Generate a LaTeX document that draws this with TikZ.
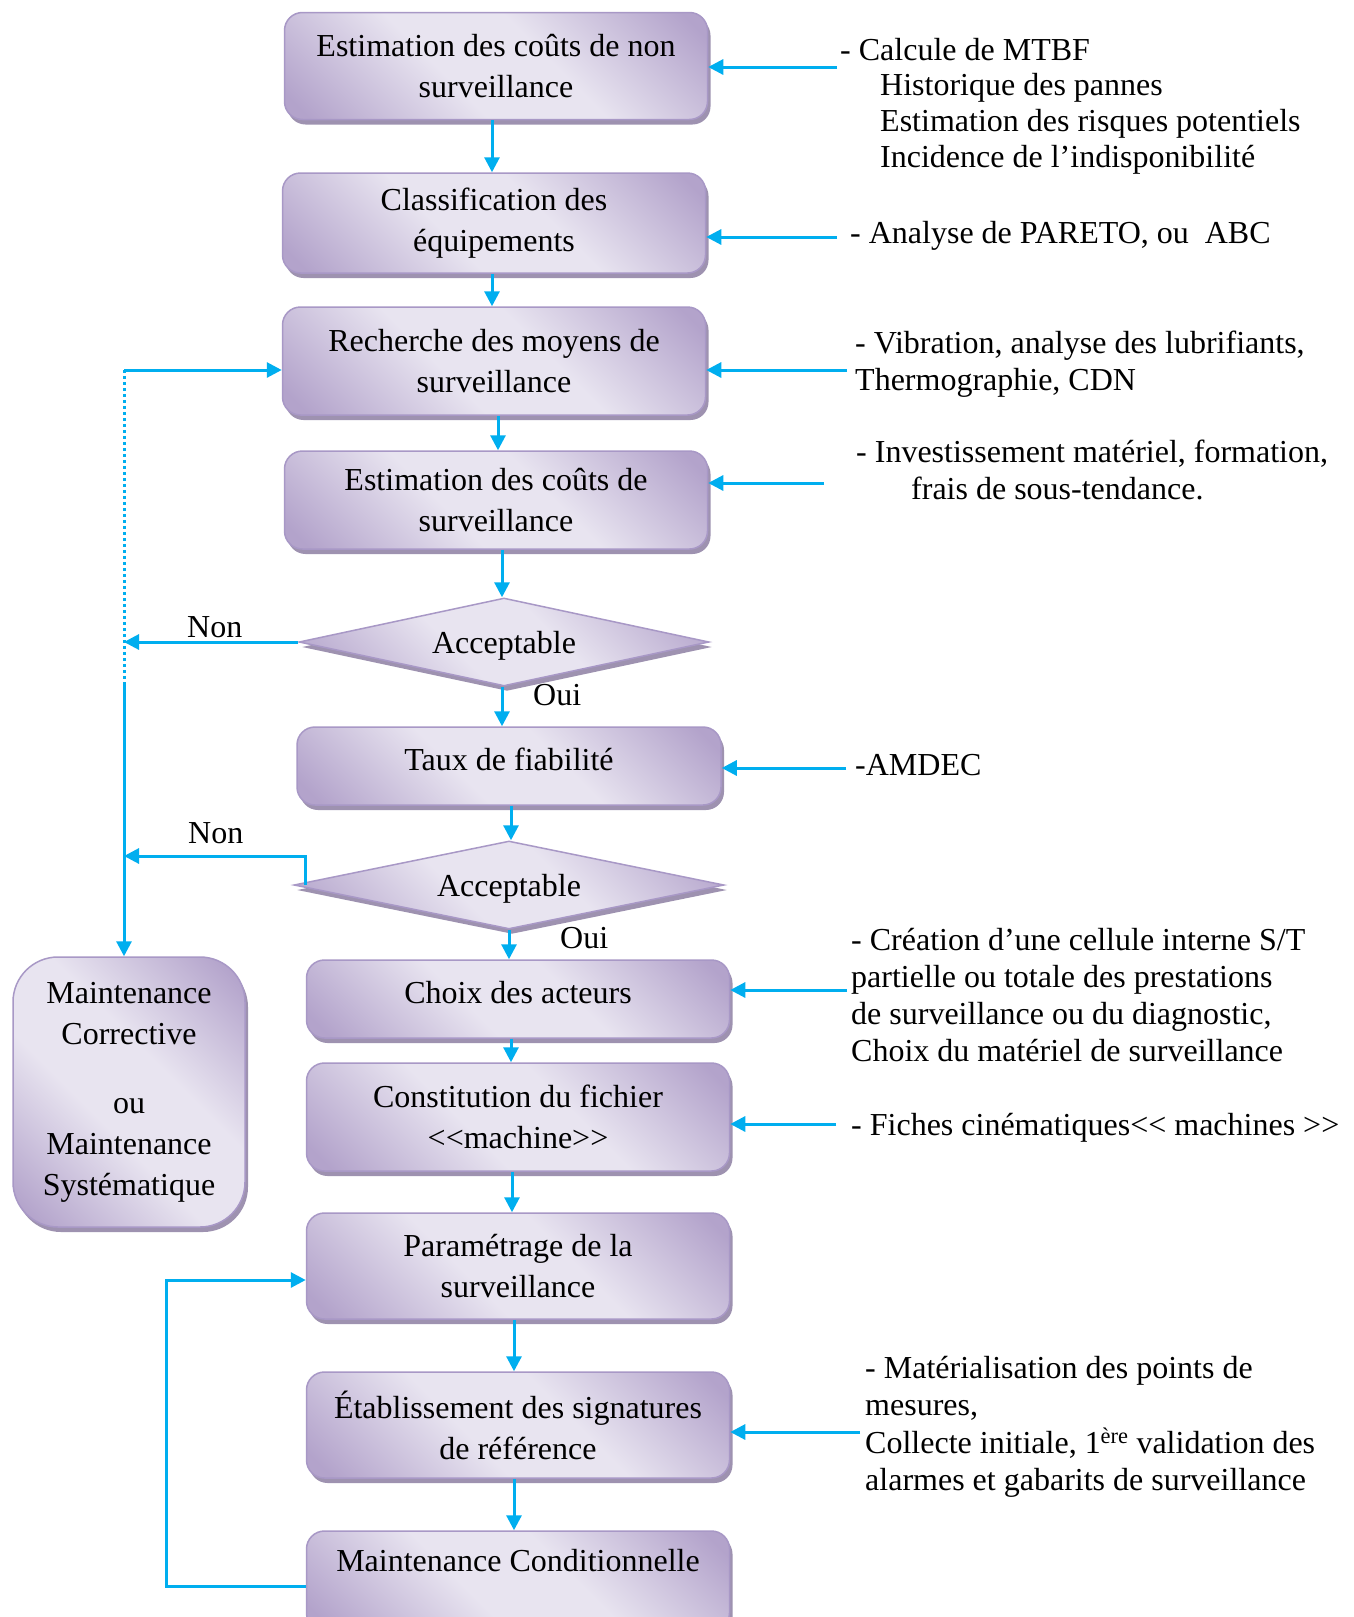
\documentclass[tikz,border=0pt]{standalone}
\usepackage{fontspec}
\setmainfont{Liberation Serif}
\usetikzlibrary{shapes.geometric,shadows,arrows.meta}
\definecolor{lavL}{HTML}{E8E4F0}
\definecolor{lavD}{HTML}{B3A3CB}
\definecolor{lavB}{HTML}{A898C6}
\definecolor{shadc}{HTML}{9E92B0}
\definecolor{arrc}{HTML}{00AEEF}
\pgfdeclarehorizontalshading{lavshade}{100bp}{color(0bp)=(lavD);color(18bp)=(lavD);color(42bp)=(lavL);color(58bp)=(lavL);color(82bp)=(lavD);color(100bp)=(lavD)}
\newcommand\fs{\fontsize{32}{41}\selectfont}
\tikzset{
  procbox/.style={rectangle, rounded corners=18pt, draw=lavB, line width=1.5pt,
    shading=lavshade, shading angle=45, minimum width=423pt, inner sep=0pt,
    align=center, font=\fs,
    drop shadow={shadow xshift=3pt, shadow yshift=-5pt, fill=shadc, opacity=1}},
  decision/.style={diamond, shape aspect=4.7, draw=lavB, line width=1.5pt, shading=lavshade,
    shading angle=45, inner sep=0pt, font=\fs, text depth=0pt,
    drop shadow={shadow xshift=3pt, shadow yshift=-5pt, fill=shadc, opacity=1}},
  arr/.style={draw=arrc, line width=3pt, -{Triangle[length=15pt,width=15pt]}},
  dotline/.style={draw=arrc, line width=3pt, dash pattern=on 3pt off 3pt},
  ann/.style={anchor=base west, inner sep=0pt, font=\fs},
}
\begin{document}
\begin{tikzpicture}[x=1pt,y=-1pt]
\useasboundingbox (0,0) rectangle (1353,1617);
\fill[white] (0,0) rectangle (1353,1617);
\clip (0,0) rectangle (1353,1617);

% main boxes
\node[procbox, minimum height=107pt] (b1) at (496,66) {Estimation des coûts de non\\surveillance};
\node[procbox, minimum height=100pt] (b2) at (494,223) {Classification des\\équipements};
\node[procbox, minimum height=108pt] (b3) at (494,361) {Recherche des moyens de\\surveillance};
\node[procbox, minimum height=98pt] (b4) at (496,500) {Estimation des coûts de\\surveillance};
\node[decision, minimum width=410pt, minimum height=88pt] (d1) at (504,642) {Acceptable};
\node[procbox, minimum width=424pt, minimum height=78pt, text depth=14pt] (b5) at (509,766) {Taux de fiabilité};
\node[decision, minimum width=430pt, minimum height=88pt] (d2) at (509,885) {Acceptable};
\node[procbox, minimum height=78pt, text depth=14pt] (b6) at (518,999) {Choix des acteurs};
\node[procbox, minimum height=108pt] (b7) at (518,1117) {Constitution du fichier\\<\kern0pt<machine>\kern0pt>};
\node[procbox, minimum height=106pt] (b8) at (518,1266) {Paramétrage de la\\surveillance};
\node[procbox, minimum height=106pt] (b9) at (518,1425) {Établissement des signatures\\de référence};
\node[procbox, minimum height=100pt] (b10) at (518,1581) {Maintenance Conditionnelle\\\mbox{}};
\node[procbox, rounded corners=45pt, minimum width=232pt, minimum height=270pt] (lm) at (129,1092)
  {Maintenance\\Corrective\\[28pt]ou\\Maintenance\\Systématique};

% vertical flow
\draw[arr] ([xshift=-4pt]b1.south) -- ([xshift=-2pt]b2.north);
\draw[arr] ([xshift=-2pt]b2.south) -- ([xshift=-2pt]b3.north);
\draw[arr] ([xshift=4pt]b3.south) -- ([xshift=2pt]b4.north);
\draw[arr] ([xshift=6pt]b4.south) -- ([xshift=-2pt]d1.north);
\draw[arr] ([xshift=-2pt]d1.south) -- ([xshift=-7pt]b5.north);
\draw[arr] ([xshift=2pt]b5.south) -- ([xshift=2pt]d2.north);
\draw[arr] (d2.south) -- ([xshift=-9pt]b6.north);
\draw[arr] ([xshift=-7pt]b6.south) -- ([xshift=-7pt]b7.north);
\draw[arr] ([xshift=-6pt]b7.south) -- ([xshift=-6pt]b8.north);
\draw[arr] ([xshift=-4pt]b8.south) -- ([xshift=-4pt]b9.north);
\draw[arr] ([xshift=-4pt]b9.south) -- ([xshift=-4pt]b10.north);

% left loop
\coordinate (L1) at (124,370);
\coordinate (L2) at (124,682);
\coordinate (N2) at (305,856);
\draw[arr] (L1) -- (L1 -| b3.west);
\draw[dotline] (L1) -- (L2);
\draw[arr] (L2) -- (L2 |- lm.north);
\draw[arr] (d1.west) -- (d1.west -| L1);
\draw[arr] (N2 |- d2.west) -- (N2) -- (N2 -| L1);
\node[ann] (non1) at (187,637) {Non};
\node[ann] (oui1) at (533,705) {Oui};
\node[ann] (non2) at (188,843) {Non};
\node[ann] (oui2) at (560,948) {Oui};

% bottom loop
\coordinate (R1) at (166,1586);
\coordinate (R2) at (166,1280);
\draw[arr] (b10.west |- R1) -- (R1) -- (R2) -- (R2 -| b8.west);

% right annotations arrows
\coordinate (a1) at (837,67);
\coordinate (a2) at (837,237);
\coordinate (a3) at (847,370);
\coordinate (a4) at (824,483);
\coordinate (a5) at (846,768);
\coordinate (a6) at (847,990);
\coordinate (a7) at (836,1124);
\coordinate (a8) at (860,1432);
\draw[arr] (a1) -- (a1 -| b1.east);
\draw[arr] (a2) -- (a2 -| b2.east);
\draw[arr] (a3) -- (a3 -| b3.east);
\draw[arr] (a4) -- (a4 -| b4.east);
\draw[arr] (a5) -- (a5 -| b5.east);
\draw[arr] (a6) -- (a6 -| b6.east);
\draw[arr] (a7) -- (a7 -| b7.east);
\draw[arr] (a8) -- (a8 -| b9.east);

% annotation texts
\node[ann] (t1a) at (840,60) {- Calcule de MTBF};
\node[ann] (t1b) at (880,95) {Historique des pannes};
\node[ann] (t1c) at (880,131) {Estimation des risques potentiels};
\node[ann] (t1d) at (880,167) {Incidence de l’indisponibilité};
\node[ann] (t2) at (850,243) {- Analyse de PARETO, ou\ \ ABC};
\node[ann] (t3a) at (855,353) {- Vibration, analyse des lubrifiants,};
\node[ann] (t3b) at (855,390) {Thermographie, CDN};
\node[ann] (t4a) at (856,462) {- Investissement matériel, formation,};
\node[ann] (t4b) at (911,499) {frais de sous-tendance.};
\node[ann] (t5) at (855,775) {-AMDEC};
\node[ann] (t6a) at (851,950) {- Création d’une cellule interne S/T};
\node[ann] (t6b) at (851,987) {partielle ou totale des prestations};
\node[ann] (t6c) at (851,1024) {de surveillance ou du diagnostic,};
\node[ann] (t6d) at (851,1061) {Choix du matériel de surveillance};
\node[ann] (t7) at (851,1135) {- Fiches cinématiques<\kern0pt< machines >\kern0pt>};
\node[ann] (t8a) at (865,1378) {- Matérialisation des points de};
\node[ann] (t8b) at (865,1415) {mesures,};
\node[ann] (t8c) at (865,1453) {Collecte initiale, 1\textsuperscript{ère} validation des};
\node[ann] (t8d) at (865,1490) {alarmes et gabarits de surveillance};
\end{tikzpicture}
\end{document}
